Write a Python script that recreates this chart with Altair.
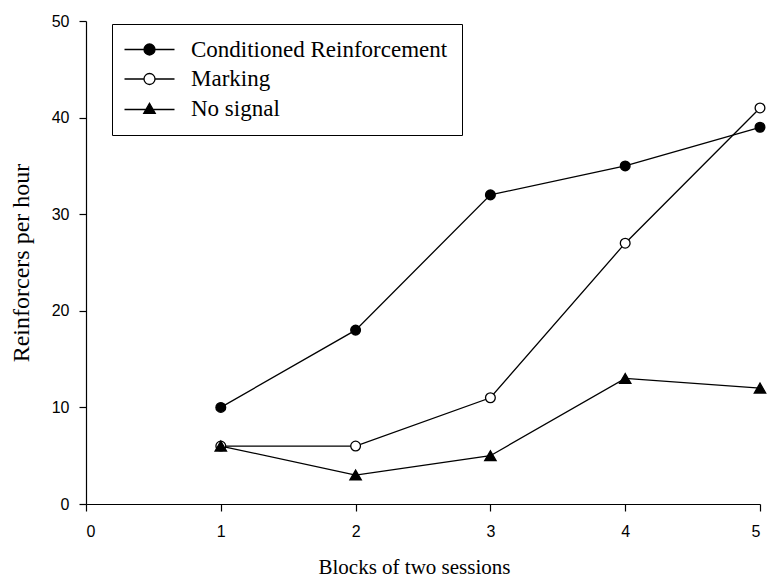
import altair as alt
import pandas as pd

# Reinforcers per hour across blocks of two sessions
blocks = [1, 2, 3, 4, 5]
conditioned = [10, 18, 32, 35, 39]
marking = [6, 6, 11, 27, 41]
no_signal = [6, 3, 5, 13, 12]

series_names = ["Conditioned Reinforcement", "Marking", "No signal"]
series_values = [conditioned, marking, no_signal]

x_ticks = [0, 1, 2, 3, 4, 5]
y_ticks = [0, 10, 20, 30, 40, 50]

# marker styling per series
marker_shapes = ["circle", "circle", "triangle-up"]
marker_fills = ["black", "white", "black"]
marker_sizes = [95, 95, 130]

# legend symbols: a short line segment with the series marker on it
legend_paths = [
    "M-5,0L5,0M1.1,0A1.1,1.1,0,1,1,-1.1,0A1.1,1.1,0,1,1,1.1,0Z",
    "M-5,0L-1.1,0M1.1,0L5,0M1.1,0A1.1,1.1,0,1,1,-1.1,0A1.1,1.1,0,1,1,1.1,0Z",
    "M-5,0.2L5,0.2M0,-1.05L1.15,0.95L-1.15,0.95Z",
]

rows = [
    {"series": name, "block": b, "rate": v}
    for name, vals in zip(series_names, series_values)
    for b, v in zip(blocks, vals)
]
df = pd.DataFrame(rows)

SANS = "Liberation Sans"
SERIF = "Liberation Serif"

x_enc = alt.X(
    "block:Q",
    scale=alt.Scale(domain=[0, 5], nice=False),
    axis=alt.Axis(values=x_ticks, format="d", title="Blocks of two sessions",
                  labelPadding=12, titlePadding=17, titleFontSize=21, titleX=328),
)
y_enc = alt.Y(
    "rate:Q",
    scale=alt.Scale(domain=[0, 50], nice=False),
    axis=alt.Axis(values=y_ticks, format="d", title="Reinforcers per hour",
                  labelPadding=10, titlePadding=18, titleFontSize=24),
)

base = alt.Chart(df)

lines = base.mark_line(color="black", strokeWidth=1.3).encode(
    x=x_enc, y=y_enc, detail="series:N"
)

point_layers = []
for name, shp, fil, sz in zip(series_names, marker_shapes, marker_fills, marker_sizes):
    point_layers.append(
        base.transform_filter(alt.datum.series == name)
        .mark_point(shape=shp, filled=True, fill=fil, stroke="black",
                    strokeWidth=1.3, size=sz, opacity=1)
        .encode(x=x_enc, y=y_enc)
    )

leg = alt.Legend(
    title=None,
    orient="none",
    legendX=26,
    legendY=3,
    strokeColor="black",
    padding=14,
    symbolSize=100,
    symbolStrokeWidth=1.3,
    symbolOffset=12,
    labelOffset=30,
    rowPadding=5.5,
    labelFont=SERIF,
    labelFontSize=23,
    labelColor="black",
    labelLimit=400,
)

legend_layer = (
    base.transform_filter("false")
    .mark_point(filled=True, strokeWidth=1.3, opacity=1)
    .encode(
        x=x_enc,
        y=y_enc,
        shape=alt.Shape("series:N", scale=alt.Scale(domain=series_names, range=legend_paths), legend=leg),
        fill=alt.Fill("series:N", scale=alt.Scale(domain=series_names, range=marker_fills), legend=leg),
        stroke=alt.Stroke("series:N", scale=alt.Scale(domain=series_names, range=["black"] * 3), legend=leg),
    )
)

chart = (
    alt.layer(lines, *point_layers, legend_layer)
    .properties(
        width=674,
        height=483,
        autosize="none",
        padding={"left": 86, "top": 21, "right": 7, "bottom": 78},
        background="white",
    )
    .configure_view(stroke=None)
    .configure_axis(
        grid=False,
        domainColor="black",
        domainWidth=1.2,
        tickColor="black",
        tickSize=7,
        tickWidth=1.2,
        labelColor="black",
        labelFont=SANS,
        labelFontSize=16,
        titleColor="black",
        titleFont=SERIF,
        titleFontWeight="normal",
    )
)

chart.save("out.html", embed_options={"renderer": "svg", "actions": False})
